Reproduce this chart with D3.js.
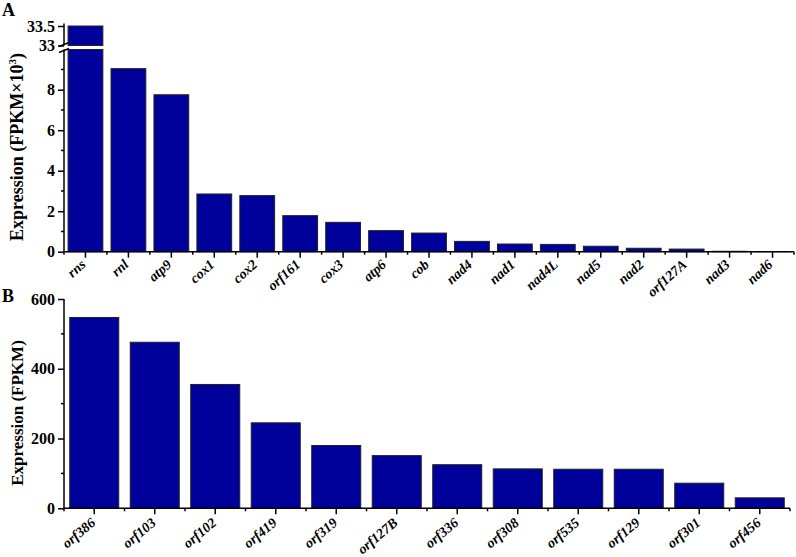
<!DOCTYPE html>
<html lang="en">
<head>
<meta charset="UTF-8">
<title>Mitochondrial gene expression</title>
<script src="https://d3js.org/d3.v7.min.js"></script>
<style>
    body { margin: 0; background: #fff; }
    svg text { font-family: "Liberation Serif", "Times New Roman", Times, serif; font-weight: bold; fill: #000; }
    .tick-label { font-size: 16px; }
    .cat-label { font-size: 14px; font-style: italic; }
    .axis-title { font-size: 17px; }
    .panel-label { font-size: 18px; }
    .bar { fill: #00009a; stroke: #222; stroke-width: 1; }
    .axis-line { stroke: #000; stroke-width: 1.5; fill: none; }
</style>
</head>
<body>
<div id="chart"></div>
<script>
    // panel A: core genes (FPKM x 10^3)
    const genesA = ["rns", "rnl", "atp9", "cox1", "cox2", "orf161", "cox3", "atp6", "cob",
                    "nad4", "nad1", "nad4L", "nad5", "nad2", "orf127A", "nad3", "nad6"];
    const valuesA = [33.5, 9.04, 7.75, 2.85, 2.77, 1.78, 1.45, 1.04, 0.92,
                     0.51, 0.38, 0.36, 0.27, 0.17, 0.13, 0.02, 0.01];
    const ticksLowA = [0, 2, 4, 6, 8];
    const ticksHighA = [33, 33.5];

    // panel B: ORFs (FPKM)
    const genesB = ["orf386", "orf103", "orf102", "orf419", "orf319", "orf127B",
                    "orf336", "orf308", "orf535", "orf129", "orf301", "orf456"];
    const valuesB = [547, 476, 355, 245, 180, 151, 125, 113, 112, 112, 72, 30];
    const ticksB = [0, 200, 400, 600];

    const width = 796, height = 557;
    const svg = d3.select("#chart").append("svg")
        .attr("width", width).attr("height", height);

    // ---------- panel A ----------
    const xA = d3.scaleBand().domain(genesA).range([64, 794]).paddingInner(0.19).paddingOuter(0.095);
    const yLow = d3.scaleLinear().domain([0, 10]).range([251.7, 49.2]);
    const yHigh = d3.scaleLinear().domain([33, 33.5]).range([45.5, 26]);
    const breakLow = 49.5, breakHigh = 45.5, topA = 23.5;

    const gA = svg.append("g");

    // bars (rns gets split over the break)
    gA.selectAll(".bar-low").data(valuesA).enter().append("rect")
        .attr("class", "bar")
        .attr("x", (d, i) => xA(genesA[i]))
        .attr("width", xA.bandwidth())
        .attr("y", d => d > 10 ? breakLow : yLow(d))
        .attr("height", d => yLow(0) - (d > 10 ? breakLow : yLow(d)));

    gA.selectAll(".bar-high").data(valuesA.filter(d => d > 10)).enter().append("rect")
        .attr("class", "bar")
        .attr("x", d => xA(genesA[valuesA.indexOf(d)]))
        .attr("width", xA.bandwidth())
        .attr("y", d => yHigh(d))
        .attr("height", d => breakHigh - yHigh(d));

    // y axis lower segment
    const axLow = gA.append("g").attr("transform", "translate(64,0)")
        .call(d3.axisLeft(yLow).tickValues(ticksLowA).tickSize(6).tickFormat(d3.format("d")));
    axLow.select(".domain").remove();
    gA.append("line").attr("class", "axis-line")
        .attr("x1", 64).attr("x2", 64).attr("y1", yLow(0)).attr("y2", breakLow);
    gA.selectAll(".minor-low").data([1, 3, 5, 7, 9]).enter().append("line")
        .attr("class", "axis-line")
        .attr("x1", 61).attr("x2", 64).attr("y1", d => yLow(d)).attr("y2", d => yLow(d));

    // y axis upper segment
    const axHigh = gA.append("g").attr("transform", "translate(64,0)")
        .call(d3.axisLeft(yHigh).tickValues(ticksHighA).tickSize(6).tickFormat(d => d));
    axHigh.select(".domain").remove();
    gA.append("line").attr("class", "axis-line")
        .attr("x1", 64).attr("x2", 64).attr("y1", breakHigh).attr("y2", topA);

    // break marks
    [breakHigh - 1, breakLow + 1].forEach(y => {
        gA.append("line").attr("class", "axis-line")
            .attr("x1", 59).attr("x2", 69).attr("y1", y + 2).attr("y2", y - 2);
    });

    // x axis
    gA.append("line").attr("class", "axis-line")
        .attr("x1", 64).attr("x2", 794).attr("y1", yLow(0)).attr("y2", yLow(0));
    const axXA = gA.append("g").attr("transform", `translate(0,${yLow(0)})`)
        .call(d3.axisBottom(xA).tickSize(6).tickFormat(""));
    axXA.select(".domain").remove();
    gA.selectAll(".minor-xa").data(genesA.concat(["_end"])).enter().append("line")
        .attr("class", "axis-line")
        .attr("x1", (d, i) => 64 + i * xA.step()).attr("x2", (d, i) => 64 + i * xA.step())
        .attr("y1", yLow(0)).attr("y2", yLow(0) + 3);

    gA.selectAll(".cat-a").data(genesA).enter().append("text")
        .attr("class", "cat-label")
        .attr("text-anchor", "end")
        .attr("transform", d => `translate(${xA(d) + xA.bandwidth() / 2 + 1},${yLow(0) + 14}) rotate(-42)`)
        .text(d => d);

    gA.append("text").attr("class", "axis-title")
        .attr("text-anchor", "middle")
        .attr("transform", "translate(23,147) rotate(-90)")
        .style("font-size", "18px")
        .call(t => {
            t.append("tspan").text("Expression (FPKM×10");
            t.append("tspan").attr("dy", -7).style("font-size", "11px").text("3");
            t.append("tspan").attr("dy", 7).text(")");
        });

    svg.append("text").attr("class", "panel-label").attr("x", 2).attr("y", 16).text("A");

    // ---------- panel B ----------
    const xB = d3.scaleBand().domain(genesB).range([64, 790]).paddingInner(0.19).paddingOuter(0.095);
    const yB = d3.scaleLinear().domain([0, 600]).range([508.3, 299]);

    const gB = svg.append("g");

    gB.selectAll(".bar").data(valuesB).enter().append("rect")
        .attr("class", "bar")
        .attr("x", (d, i) => xB(genesB[i]))
        .attr("width", xB.bandwidth())
        .attr("y", d => yB(d))
        .attr("height", d => yB(0) - yB(d));

    const axB = gB.append("g").attr("transform", "translate(64,0)")
        .call(d3.axisLeft(yB).tickValues(ticksB).tickSize(6).tickFormat(d3.format("d")));
    axB.select(".domain").remove();
    gB.append("line").attr("class", "axis-line")
        .attr("x1", 64).attr("x2", 64).attr("y1", yB(0)).attr("y2", yB(600));
    gB.selectAll(".minor-b").data([100, 300, 500]).enter().append("line")
        .attr("class", "axis-line")
        .attr("x1", 61).attr("x2", 64).attr("y1", d => yB(d)).attr("y2", d => yB(d));

    gB.append("line").attr("class", "axis-line")
        .attr("x1", 64).attr("x2", 790).attr("y1", yB(0)).attr("y2", yB(0));
    const axXB = gB.append("g").attr("transform", `translate(0,${yB(0)})`)
        .call(d3.axisBottom(xB).tickSize(6).tickFormat(""));
    axXB.select(".domain").remove();
    gB.selectAll(".minor-xb").data(genesB.concat(["_end"])).enter().append("line")
        .attr("class", "axis-line")
        .attr("x1", (d, i) => 64 + i * xB.step()).attr("x2", (d, i) => 64 + i * xB.step())
        .attr("y1", yB(0)).attr("y2", yB(0) + 3);

    gB.selectAll(".cat-b").data(genesB).enter().append("text")
        .attr("class", "cat-label")
        .attr("text-anchor", "end")
        .attr("transform", d => `translate(${xB(d) + xB.bandwidth() / 2 + 2},${yB(0) + 16}) rotate(-40)`)
        .text(d => d);

    gB.append("text").attr("class", "axis-title")
        .attr("text-anchor", "middle")
        .attr("transform", "translate(23,413) rotate(-90)")
        .text("Expression (FPKM)");

    svg.append("text").attr("class", "panel-label").attr("x", 2).attr("y", 302).text("B");

    // style tick marks / labels from d3 axes
    svg.selectAll(".tick line").attr("stroke", "#000").attr("stroke-width", 1.5);
    svg.selectAll(".tick text").attr("class", "tick-label").attr("fill", "#000");
</script>
</body>
</html>
